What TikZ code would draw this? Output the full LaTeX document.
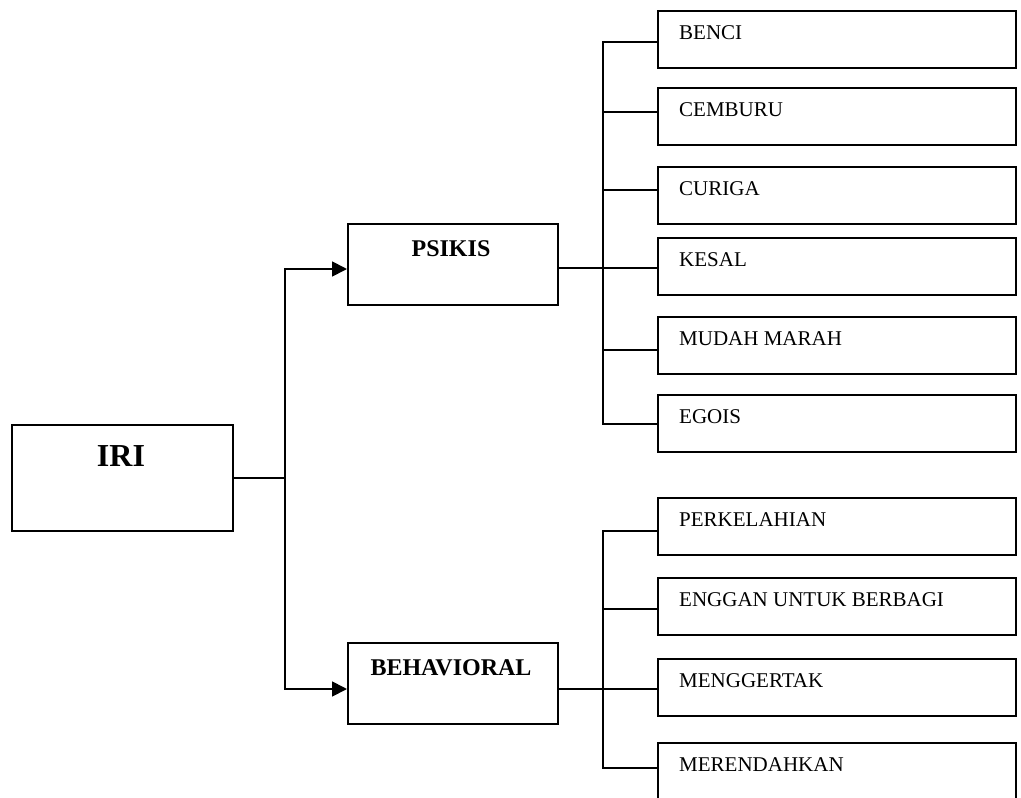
\documentclass[tikz,border=0pt]{standalone}
\usepackage{fontspec}
\setmainfont{Liberation Serif}
\usetikzlibrary{arrows.meta}
\begin{document}
\begin{tikzpicture}[x=1pt,y=-1pt,
  box/.style={draw, line width=1.8pt, rectangle, inner sep=0pt, anchor=north west},
  mainbox/.style={box, minimum width=210pt, minimum height=81pt},
  leafbox/.style={box, minimum width=358pt, minimum height=57pt},
  conn/.style={line width=1.8pt, line join=miter},
  arr/.style={conn, -{Triangle[length=15pt,width=15pt]}},
  lbl/.style={anchor=west, inner sep=0pt, font=\fontsize{21}{25}\selectfont},
  hd/.style={inner sep=0pt, font=\fontsize{24}{29}\selectfont\bfseries},
  root/.style={inner sep=0pt, font=\fontsize{32}{38}\selectfont\bfseries}]
\useasboundingbox (0,0) rectangle (1021,798);
\clip (0,0) rectangle (1021,798);

% root
\node[box, minimum width=221pt, minimum height=106pt] (iri) at (11,424) {};
\node[root] (iriT) at (121,456) {IRI};

% middle
\node[mainbox] (psikis) at (347,223) {};
\node[hd] (psikisT) at (451,249) {PSIKIS};
\node[mainbox] (behav) at (347,642) {};
\node[hd] (behavT) at (451,668) {BEHAVIORAL};

% leaves (psikis)
\foreach \n/\t/\c/\txt in {b1/10/42/BENCI, b2/87/112/CEMBURU, b3/166/190/CURIGA, b4/237/268/KESAL, b5/316/350/MUDAH MARAH, b6/394/424/EGOIS,
  c1/497/531/PERKELAHIAN, c2/577/609/ENGGAN UNTUK BERBAGI, c3/658/689/MENGGERTAK, c4/742/768/MERENDAHKAN}{
  \node[leafbox] (\n) at (657,\t) {};
  \node[lbl] (\n T) at (679,\t+23) {\txt};
  \coordinate (\n c) at (657,\c);
}

% trunk
\coordinate (j) at (285,478);
\coordinate (jt) at (285,269);
\coordinate (jb) at (285,689);
\draw[conn] (iri.east |- j) -- (j);
\draw[arr] (j) -- (jt) -- (psikis.west |- jt);
\draw[arr] (j) -- (jb) -- (behav.west |- jb);

% psikis bus
\coordinate (pbt) at (603,42);
\coordinate (pbb) at (603,424);
\draw[conn] (psikis.east |- b4c) -- (b4c);
\draw[conn] (b1c) -- (pbt) -- (pbb) -- (b6c);
\foreach \n in {b2,b3,b5}{\draw[conn] (pbt |- \n c) -- (\n c);}

% behavioral bus
\coordinate (qbt) at (603,531);
\coordinate (qbb) at (603,768);
\draw[conn] (behav.east |- c3c) -- (c3c);
\draw[conn] (c1c) -- (qbt) -- (qbb) -- (c4c);
\draw[conn] (qbt |- c2c) -- (c2c);
\end{tikzpicture}
\end{document}
